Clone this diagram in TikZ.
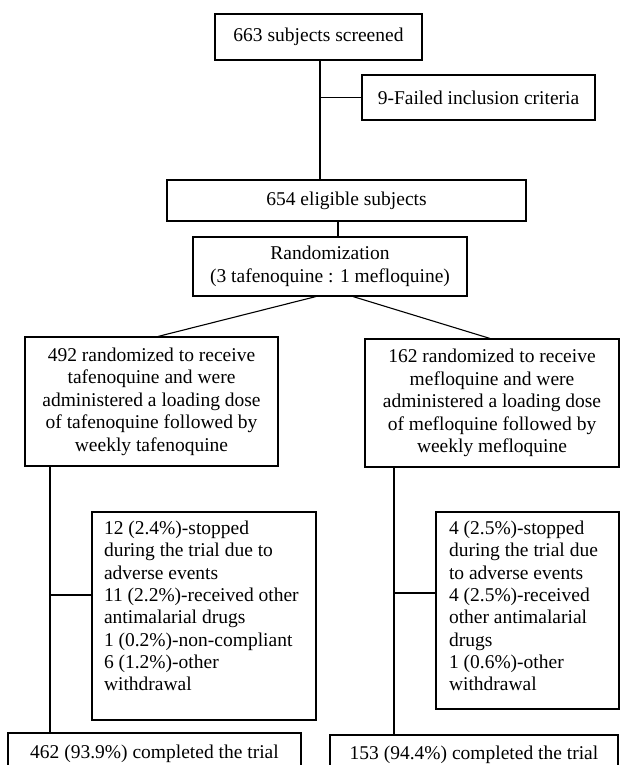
\documentclass[tikz,border=0pt]{standalone}
\usepackage{fontspec}
\setmainfont{Liberation Serif}
\begin{document}
\begin{tikzpicture}[x=1pt,y=-1pt,
  box/.style={draw, line width=1.1pt, inner sep=0pt, align=center,
    font=\fontsize{19.5}{22.5}\selectfont},
  wdbox/.style={draw, line width=1.1pt, inner ysep=9pt, inner xsep=12pt,
    font=\fontsize{19.5}{22.3}\selectfont},
  conn/.style={line width=1.1pt}]
\useasboundingbox (0,0) rectangle (621,765);
\clip (0,0) rectangle (621,765);
% boxes
\node[box, minimum width=207pt, minimum height=46pt] (screened) at (318.5,37) {663 subjects screened};
\node[box, minimum width=233pt, minimum height=45pt] (failed) at (478.5,97.5) {9-Failed inclusion criteria};
\node[box, minimum width=359pt, minimum height=41pt] (eligible) at (346.5,200.5) {654 eligible subjects};
\node[box, minimum width=274pt, minimum height=59pt] (rand) at (330,266.5) {Randomization\\(3 tafenoquine : 1 mefloquine)};
\node[box, minimum width=253pt, minimum height=129pt] (tafe) at (151.5,401.5) {492 randomized to receive\\tafenoquine and were\\administered a loading dose\\of tafenoquine followed by\\weekly tafenoquine};
\node[box, minimum width=254pt, minimum height=128pt] (mefl) at (492,403) {162 randomized to receive\\mefloquine and were\\administered a loading dose\\of mefloquine followed by\\weekly mefloquine};
\node[wdbox] (wd1) at (204,616) {\parbox[c][190pt][t]{200pt}{\raggedright 12 (2.4\%)-stopped\\during the trial due to\\adverse events\\11 (2.2\%)-received other\\antimalarial drugs\\1 (0.2\%)-non-compliant\\6 (1.2\%)-other\\withdrawal}};
\node[wdbox, inner xsep=13pt] (wd2) at (527.5,610.5) {\parbox[c][179pt][t]{157pt}{\raggedright 4 (2.5\%)-stopped\\during the trial due\\to adverse events\\4 (2.5\%)-received\\other antimalarial\\drugs\\1 (0.6\%)-other\\withdrawal}};
\node[box, minimum width=293pt, minimum height=42pt] (done1) at (154.5,754) {462 (93.9\%) completed the trial};
\node[box, minimum width=288pt, minimum height=40pt] (done2) at (474,755) {153 (94.4\%) completed the trial};
% connectors
\coordinate (vx1) at (320,0);
\coordinate (vx2) at (338,0);
\coordinate (vx3) at (50,0);
\coordinate (vx4) at (394,0);
\coordinate (by1) at (0,595);
\coordinate (by2) at (0,593);
\draw[conn] (screened.south -| vx1) -- (eligible.north -| vx1);
\draw[conn] (failed.west) -- (failed.west -| vx1);
\draw[conn] (eligible.south -| vx2) -- (rand.north -| vx2);
\draw[conn] ([xshift=-14pt]rand.south) -- ([xshift=6.5pt]tafe.north);
\draw[conn] ([xshift=23pt]rand.south) -- ([xshift=-2pt]mefl.north);
\draw[conn] (tafe.south -| vx3) -- (done1.north -| vx3);
\draw[conn] (wd1.west |- by1) -- (vx3 |- by1);
\draw[conn] (mefl.south -| vx4) -- (done2.north -| vx4);
\draw[conn] (wd2.west |- by2) -- (vx4 |- by2);
\end{tikzpicture}
\end{document}
